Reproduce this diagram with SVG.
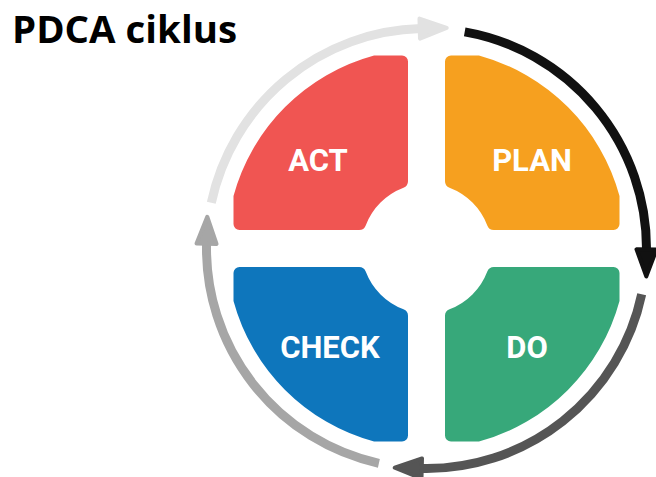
<svg xmlns="http://www.w3.org/2000/svg" width="656" height="477" viewBox="0 0 656 477">
<style>
.lbl{font-family:Roboto,"Liberation Sans",Arial,sans-serif;font-weight:700;font-size:31px;fill:#ffffff;text-anchor:middle}
.title{font-family:"Open Sans","Noto Sans","Liberation Sans",sans-serif;font-weight:700;font-size:38px;fill:#000000}
.ring{fill:none;stroke-width:9}
</style>
<defs>
<path id="quad" d="M18.5,-67.33 L18.5,-187 A6,6 0 0 1 24.5,-193 L52.45,-193 A200,200 0 0 1 193,-52.45 L193,-24.5 A6,6 0 0 1 187,-18.5 L67.33,-18.5 A7,7 0 0 1 60.79,-23.02 A65,65 0 0 0 23.02,-60.79 A7,7 0 0 1 18.5,-67.33 Z"/>
<marker id="hBlack" markerUnits="userSpaceOnUse" viewBox="-4 -15 36 30" markerWidth="36" markerHeight="30" refX="0" refY="0" orient="auto" overflow="visible"><path d="M-1,-10 L26,0 L-1,10 Z" fill="#111111" stroke="#111111" stroke-width="4" stroke-linejoin="round"/></marker>
<marker id="hDark" markerUnits="userSpaceOnUse" viewBox="-4 -15 36 30" markerWidth="36" markerHeight="30" refX="0" refY="0" orient="auto" overflow="visible"><path d="M-1,-10 L26,0 L-1,10 Z" fill="#555555" stroke="#555555" stroke-width="4" stroke-linejoin="round"/></marker>
<marker id="hMid" markerUnits="userSpaceOnUse" viewBox="-4 -15 36 30" markerWidth="36" markerHeight="30" refX="0" refY="0" orient="auto" overflow="visible"><path d="M-1,-10 L26,0 L-1,10 Z" fill="#a6a6a6" stroke="#a6a6a6" stroke-width="4" stroke-linejoin="round"/></marker>
<marker id="hLight" markerUnits="userSpaceOnUse" viewBox="-4 -15 36 30" markerWidth="36" markerHeight="30" refX="0" refY="0" orient="auto" overflow="visible"><path d="M-1,-10 L26,0 L-1,10 Z" fill="#e2e2e2" stroke="#e2e2e2" stroke-width="4" stroke-linejoin="round"/></marker>
</defs>
<rect width="656" height="477" fill="#ffffff"/>
<text class="title" x="12" y="43" textLength="225" lengthAdjust="spacingAndGlyphs">PDCA ciklus</text>
<g id="connectors">
<path class="ring" stroke="#111111" marker-end="url(#hBlack)" d="M464.70,31.84 A220,220 0 0 1 646.49,250.42"/>
<path class="ring" stroke="#555555" marker-end="url(#hDark)" d="M641.69,294.24 A220,220 0 0 1 420.74,468.43"/>
<path class="ring" stroke="#a6a6a6" marker-end="url(#hMid)" d="M378.88,463.29 A220,220 0 0 1 206.57,242.74"/>
<path class="ring" stroke="#e2e2e2" marker-end="url(#hLight)" d="M211.31,202.76 A220,220 0 0 1 420.74,28.57"/>
</g>
<g id="act">
<use href="#quad" transform="translate(426.5,248.5) scale(-1,1)" fill="#f05552"/>
<text class="lbl" x="318" y="171">ACT</text>
</g>
<g id="plan">
<use href="#quad" transform="translate(426.5,248.5)" fill="#f6a01f"/>
<text class="lbl" x="532" y="171">PLAN</text>
</g>
<g id="check">
<use href="#quad" transform="translate(426.5,248.5) scale(-1,-1)" fill="#0e76bc"/>
<text class="lbl" x="330" y="358">CHECK</text>
</g>
<g id="do">
<use href="#quad" transform="translate(426.5,248.5) scale(1,-1)" fill="#37a87a"/>
<text class="lbl" x="527" y="358">DO</text>
</g>
</svg>
